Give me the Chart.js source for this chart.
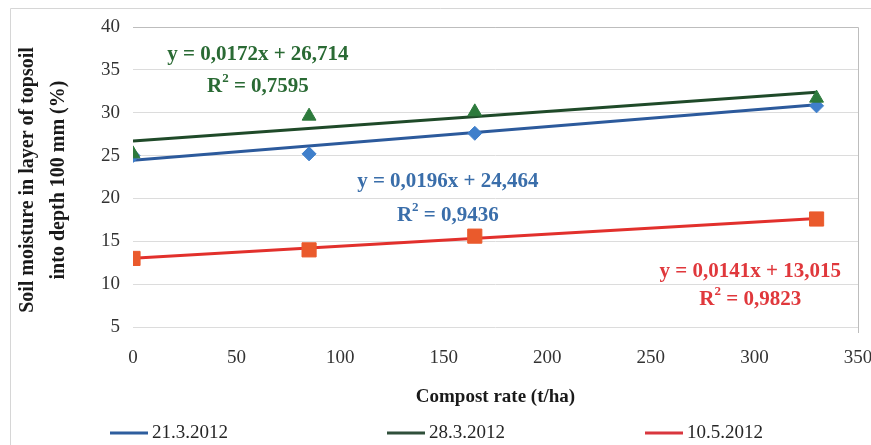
<!DOCTYPE html>
<html>
<head>
<meta charset="utf-8">
<script src="https://cdn.jsdelivr.net/npm/chart.js@4"></script>
<style>
  html, body { margin: 0; padding: 0; background: #ffffff; }
  canvas { display: block; }
</style>
</head>
<body>
<canvas id="chart" width="871" height="445"></canvas>
<script>
// ---- data ----
const seriesNames = ['21.3.2012', '28.3.2012', '10.5.2012'];
const compostRates = [0, 85, 165, 330];
const moisture21Mar = [25.0, 25.2, 27.6, 30.8];
const moisture28Mar = [25.2, 29.6, 30.1, 31.7];
const moisture10May = [13.0, 14.0, 15.6, 17.6];
const trendSlopes = [0.0196, 0.0172, 0.0141];
const trendIntercepts = [24.464, 26.714, 13.015];
const trendEquations = ['y = 0,0196x + 24,464', 'y = 0,0172x + 26,714', 'y = 0,0141x + 13,015'];
const trendR2 = ['0,9436', '0,7595', '0,9823'];
const yTicks = [5, 10, 15, 20, 25, 30, 35, 40];
const xTicks = [0, 50, 100, 150, 200, 250, 300, 350];

// ---- styling ----
const SERIF = '"Liberation Serif", "DejaVu Serif", serif';
const markerColors = ['#3f7fcb', '#2d7a3c', '#ea5a2c'];
const trendColors = ['#2c5a9c', '#1f4a29', '#e2302c'];
const labelColors = ['#3a6eaa', '#2a6a34', '#e0383c'];
const legendColors = ['#2e5e9e', '#2f4f3a', '#d9363e'];
const markerStyles = ['rectRot', 'triangle', 'rect'];
const markerRadii = [7, 8, 10];
const markerOrder = [3, 2, 2];
// equation label anchors, in axis units
const labelAnchors = [
  { x: 152, y: 21.92, y2: 17.95 },
  { x: 60.3, y: 36.73, y2: 33.0 },
  { x: 298, y: 11.42, y2: 8.15 }
];
// legend entries: left edge of each line sample and the row centre, in px
const legendX = [110, 387, 645];
const legendY = 433;

const seriesValues = [moisture21Mar, moisture28Mar, moisture10May];
const datasets = [];
seriesValues.forEach((vals, i) => {
  datasets.push({
    label: seriesNames[i],
    type: 'scatter',
    data: compostRates.map((x, j) => ({ x: x, y: vals[j] })),
    pointStyle: markerStyles[i],
    pointRadius: markerRadii[i],
    pointHoverRadius: markerRadii[i],
    backgroundColor: markerColors[i],
    borderColor: markerColors[i],
    borderWidth: 1,
    showLine: false,
    order: markerOrder[i]
  });
});
const xFirst = Math.min(...compostRates);
const xLast = Math.max(...compostRates);
seriesValues.forEach((vals, i) => {
  datasets.push({
    label: seriesNames[i] + ' (linear)',
    type: 'line',
    data: [xFirst, xLast].map(x => ({ x: x, y: trendIntercepts[i] + trendSlopes[i] * x })),
    borderColor: trendColors[i],
    borderWidth: 3,
    pointRadius: 0,
    fill: false,
    tension: 0,
    order: 5
  });
});

// frame of the whole chart and right/top edge of the plot area
const framePlugin = {
  id: 'frame',
  beforeDraw(chart) {
    const ctx = chart.ctx;
    ctx.save();
    ctx.strokeStyle = '#d6d6d6';
    ctx.lineWidth = 1;
    ctx.beginPath();
    ctx.moveTo(10.5, 445);
    ctx.lineTo(10.5, 8.5);
    ctx.lineTo(871, 8.5);
    ctx.stroke();
    ctx.restore();
  },
  afterDatasetsDraw(chart) {
    const { ctx, chartArea: a } = chart;
    ctx.save();
    ctx.strokeStyle = '#bdbdbd';
    ctx.lineWidth = 1;
    ctx.beginPath();
    ctx.moveTo(a.left, Math.round(a.top) + 0.5);
    ctx.lineTo(Math.round(a.right) + 0.5, Math.round(a.top) + 0.5);
    ctx.lineTo(Math.round(a.right) + 0.5, a.bottom);
    ctx.stroke();
    ctx.restore();
  }
};

// trendline equations and R² values
const equationPlugin = {
  id: 'equations',
  afterDraw(chart) {
    const ctx = chart.ctx;
    const xs = chart.scales.x, ys = chart.scales.y;
    const main = 'bold 21px ' + SERIF, sup = 'bold 13px ' + SERIF;
    ctx.save();
    ctx.textBaseline = 'middle';
    labelAnchors.forEach((a, i) => {
      const px = xs.getPixelForValue(a.x);
      const py = ys.getPixelForValue(a.y);
      const py2 = ys.getPixelForValue(a.y2);
      ctx.fillStyle = labelColors[i];
      ctx.font = main;
      ctx.textAlign = 'center';
      ctx.fillText(trendEquations[i], px, py);
      // "R² = value" with a raised 2
      const wR = ctx.measureText('R').width;
      const rest = ' = ' + trendR2[i];
      const wRest = ctx.measureText(rest).width;
      ctx.font = sup; const w2 = ctx.measureText('2').width;
      let x = px - (wR + w2 + wRest) / 2;
      ctx.textAlign = 'left';
      ctx.font = main; ctx.fillText('R', x, py2); x += wR;
      ctx.font = sup; ctx.fillText('2', x, py2 - 8); x += w2;
      ctx.font = main; ctx.fillText(rest, x, py2);
    });
    ctx.restore();
  }
};

// legend row under the axis title
const legendPlugin = {
  id: 'lineLegend',
  afterDraw(chart) {
    const ctx = chart.ctx;
    ctx.save();
    ctx.font = '19px ' + SERIF;
    ctx.textBaseline = 'middle';
    ctx.textAlign = 'left';
    seriesNames.forEach((name, i) => {
      const x = legendX[i];
      ctx.strokeStyle = legendColors[i];
      ctx.lineWidth = 3;
      ctx.beginPath();
      ctx.moveTo(x, legendY);
      ctx.lineTo(x + 38, legendY);
      ctx.stroke();
      ctx.fillStyle = '#262626';
      ctx.fillText(name, x + 42, legendY);
    });
    ctx.restore();
  }
};

new Chart(document.getElementById('chart'), {
  type: 'scatter',
  data: { datasets: datasets },
  options: {
    responsive: false,
    animation: false,
    events: [],
    layout: { autoPadding: false, padding: { left: 0, top: 27, right: 13, bottom: 32 } },
    plugins: { legend: { display: false }, tooltip: { enabled: false } },
    scales: {
      x: {
        type: 'linear',
        min: 0,
        max: 350,
        afterBuildTicks(scale) { scale.ticks = xTicks.map(v => ({ value: v })); },
        afterFit(scale) {
          scale.height = 80;
          scale.paddingLeft = 0;
          scale.paddingRight = 0;
        },
        grid: { display: false, drawTicks: false },
        border: { display: false },
        ticks: { color: '#333333', font: { family: SERIF, size: 19 }, padding: 14, maxRotation: 0 },
        title: {
          display: true,
          text: 'Compost rate (t/ha)',
          color: '#1a1a1a',
          font: { family: SERIF, size: 19, weight: 'bold' },
          padding: { top: 0, bottom: 5 }
        }
      },
      y: {
        type: 'linear',
        min: 4.3,
        max: 40,
        afterBuildTicks(scale) { scale.ticks = yTicks.map(v => ({ value: v })); },
        afterFit(scale) {
          scale.width = 133;
          scale.paddingTop = 0;
          scale.paddingBottom = 0;
        },
        grid: { color: '#dcdcdc', lineWidth: 1, drawTicks: false },
        border: { display: false },
        ticks: { color: '#333333', font: { family: SERIF, size: 19 }, padding: 13 },
        title: {
          display: true,
          text: ['Soil moisture in layer of topsoil', 'into depth 100 mm (%)'],
          color: '#1a1a1a',
          font: { family: SERIF, size: 20, weight: 'bold', lineHeight: 1.55 },
          padding: { top: 12, bottom: 0 }
        }
      }
    }
  },
  plugins: [framePlugin, equationPlugin, legendPlugin]
});
</script>
</body>
</html>
